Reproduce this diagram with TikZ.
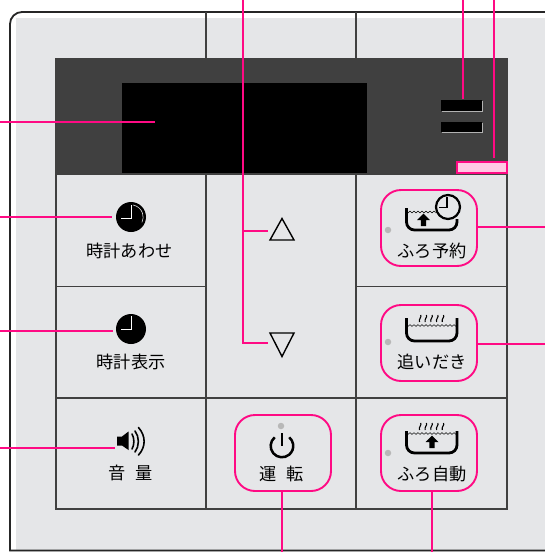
\documentclass[tikz,border=0pt]{standalone}
\usepackage{fontspec}
\setmainfont{Noto Sans CJK JP}
\definecolor{panel}{HTML}{E5E6E8}
\definecolor{lead}{HTML}{FF0A84}
\definecolor{disp}{HTML}{404040}
\definecolor{gridc}{HTML}{404040}
\definecolor{ledc}{HTML}{B8B8B8}
\definecolor{lblc}{HTML}{000000}
\tikzset{
  leader/.style={draw=lead,line width=1.9pt},
  gridline/.style={draw=gridc,line width=1.1pt},
  btn/.style={draw=lead,line width=1.9pt,rounded corners=20pt,minimum width=96pt,minimum height=76pt,inner sep=0pt},
  lbl/.style={text=lblc,font=\fontsize{17.2pt}{18pt}\selectfont,inner sep=0pt},
  tub/.style={draw=black,line width=2.8pt,line cap=butt},
  wave/.style={draw=black,line width=.6pt},
  steam/.style={draw=black,line width=1.1pt},
  led/.style={circle,fill=ledc,minimum size=6.5pt,inner sep=0pt},
  clockface/.style={circle,fill=black,minimum size=30pt,inner sep=0pt},
  tri/.style={draw=black,line width=1.4pt,line join=miter,fill=none},
}
\newcommand{\tubwave}[3]{\draw[wave] plot[domain=0:#2-#1,samples=60,smooth] ({#1+\x},{#3+0.8*sin(\x*90)});}
\newcommand{\steamrow}[2]{\foreach \sx in {0,5.7,11.4,17.1,22.8}{\draw[steam] ({#1+\sx+1.2},#2) .. controls ({#1+\sx+2.6},{#2+2}) and ({#1+\sx-1.2},{#2+4}) .. ({#1+\sx},{#2+7});}}
\newcommand{\tubarrow}[2]{\fill[black] ({#1-6.5},{#2}) -- ({#1},{#2-6.5}) -- ({#1+6.5},{#2}) -- ({#1+2.6},{#2}) -- ({#1+2.6},{#2+6}) -- ({#1-2.6},{#2+6}) -- ({#1-2.6},{#2}) -- cycle;}
\begin{document}
\begin{tikzpicture}[x=1pt,y=-1pt]
\useasboundingbox (0,0) rectangle (545,552);
\clip (0,0) rectangle (545,552);
\fill[white] (0,0) rectangle (545,552);
% housing
\fill[panel] (16,18) rectangle (545,550);
\draw[draw=black!85,line width=1.8pt] (560,12) -- (22,12) arc[start angle=90,end angle=180,radius=12pt] -- (10,550.5) -- (560,550.5);
\draw[draw=black!35,line width=.8pt] (10,551.4) -- (560,551.4);
% grid
\draw[gridline] (206,12) -- (206,58);
\draw[gridline] (356,12) -- (356,58);
\fill[disp] (56,58) rectangle (507,174);
\draw[draw=gridc,line width=1pt] (56,58) -- (507,58);
\fill[black] (122,83) rectangle (367,174);
\fill[black!30] (442,101) rectangle (483,112);
\fill[black] (441,100) rectangle (482,111);
\fill[black!30] (442,122.5) rectangle (483,133);
\fill[black] (441,121.5) rectangle (482,132);
\draw[gridline] (56,58) -- (56,509) -- (507,509) -- (507,58);
\draw[gridline] (206,174) -- (206,509);
\draw[gridline] (356,174) -- (356,509);
\draw[gridline] (56,174) -- (507,174);
\draw[gridline] (56,286.5) -- (206,286.5);
\draw[gridline] (356,286.5) -- (507,286.5);
\draw[gridline] (56,398) -- (507,398);
% indicator
\node[draw=lead,fill=lead!22,line width=2pt,minimum width=50pt,minimum height=11pt,inner sep=0pt] (ind) at (481.5,167) {};
% display target
\coordinate (dispPt) at (155,122);
% buttons
\node[btn] (yoyaku) at (429,228) {};
\node[btn] (oidaki) at (429,343) {};
\node[btn] (jido) at (429,453) {};
\node[btn] (unten) at (283,453) {};
% LEDs
\node[led] (l1) at (388,230) {};
\node[led] (l2) at (388,342) {};
\node[led] (l3) at (388,453) {};
\node[led] (l4) at (281,426) {};
% labels
\node[lbl] (t1) at (129.5,250.5) {時計あわせ};
\node[lbl] (t2) at (131,362) {時計表示};
\node[lbl] (t3) at (131,473) {音\hspace{10pt}量};
\node[lbl] (t4) at (432,250.5) {ふろ予約};
\node[lbl] (t5) at (432,362) {追いだき};
\node[lbl] (t6) at (432,473.5) {ふろ自動};
\node[lbl] (t7) at (281.5,473.5) {運\hspace{10pt}転};
% clocks
\node[clockface] (clkA) at (131,217) {};
\draw[white,line width=1pt] (121,218) -- (131.5,218) -- (131.5,205);
\draw[white!85!black,line width=.6pt] (133,205) arc[start angle=80,end angle=-25,radius=12.3pt];
\node[clockface] (clkB) at (131,329) {};
\draw[white,line width=1.5pt] (121,329.5) -- (131.5,329.5) -- (131.5,316);
% speaker
\fill[black] (117,436.5) -- (122,436.5) -- (128.5,431.5) -- (128.5,450) -- (122,445.5) -- (117,445.5) -- cycle;
\coordinate (spk) at (115,447.6);
\draw[black,line width=1.6pt,line cap=round] (132,434) .. controls (134.5,438) and (134.5,445) .. (132,449);
\draw[black,line width=1.6pt,line cap=round] (135,431) .. controls (139.5,437) and (139.5,446) .. (135,452);
\draw[black,line width=1.6pt,line cap=round] (138.5,427.5) .. controls (146,436) and (146,447) .. (138.5,455);
% triangles
\node[inner sep=0pt,minimum size=0pt] (triU) at (268,231) {};
\node[inner sep=0pt,minimum size=0pt] (triD) at (268,343) {};
\draw[tri] (270,240) -- (294,240) -- (282,218.5) -- cycle;
\draw[tri] (270,333) -- (294,333) -- (282,356.5) -- cycle;
% power
\draw[black,line width=2.5pt] (274.7,437.3) arc[start angle=130,end angle=410,radius=11.3pt];
\draw[black,line width=2.6pt] (282,433) -- (282,446);
% tub: yoyaku
\draw[tub] (406.5,208) -- (406.5,222) arc[start angle=180,end angle=270,radius=8pt] -- (449,230) arc[start angle=270,end angle=360,radius=8pt] -- (457,219);
\tubwave{407}{436}{212}
\tubarrow{423.5}{220}
\fill[panel] (448,207) circle[radius=13.5pt];
\draw[black,line width=2.2pt] (448,207) circle[radius=12pt];
\draw[black,line width=1.3pt] (447,197) -- (447,207.5) -- (439,207.5);
% tub: oidaki
\draw[tub] (406.5,318) -- (406.5,333) arc[start angle=180,end angle=270,radius=8pt] -- (449,341) arc[start angle=270,end angle=360,radius=8pt] -- (457,318);
\tubwave{407}{456}{325.5}
\steamrow{419.5}{315}
% tub: jido
\draw[tub] (406.5,431) -- (406.5,445) arc[start angle=180,end angle=270,radius=8pt] -- (449,453) arc[start angle=270,end angle=360,radius=8pt] -- (457,431);
\tubwave{407}{456}{433.5}
\steamrow{419.5}{423}
\tubarrow{432}{442}
% free ends
\coordinate (fL0) at (0,122);
\coordinate (fL1) at (0,217);
\coordinate (fL2) at (0,331);
\coordinate (fL3) at (0,447.6);
\coordinate (fT0) at (243,0);
\coordinate (fT1) at (463,0);
\coordinate (fT2) at (494,0);
\coordinate (fR1) at (545,227);
\coordinate (fR2) at (545,344);
\coordinate (fB1) at (282,552);
\coordinate (fB2) at (432,552);
\coordinate (dot1) at (463,99);
\coordinate (dot2) at (494,158);
% leaders
\draw[leader] (fL0) -- (dispPt);
\draw[leader] (fL1) -- ([xshift=-4pt]clkA.west);
\draw[leader] (fL2) -- ([xshift=-3pt]clkB.west |- fL2);
\draw[leader] (fL3) -- (spk);
\draw[leader] (fT0) -- (243,343) -- (triD);
\draw[leader] (243,231) -- (triU);
\draw[leader] (fT1) -- (dot1);
\draw[leader] (fT2) -- (dot2);
\draw[leader] (fR1) -- (yoyaku.east |- fR1);
\draw[leader] (fR2) -- (oidaki.east |- fR2);
\draw[leader] (fB1) -- (fB1 |- unten.south);
\draw[leader] (fB2) -- (fB2 |- jido.south);
\end{tikzpicture}
\end{document}
